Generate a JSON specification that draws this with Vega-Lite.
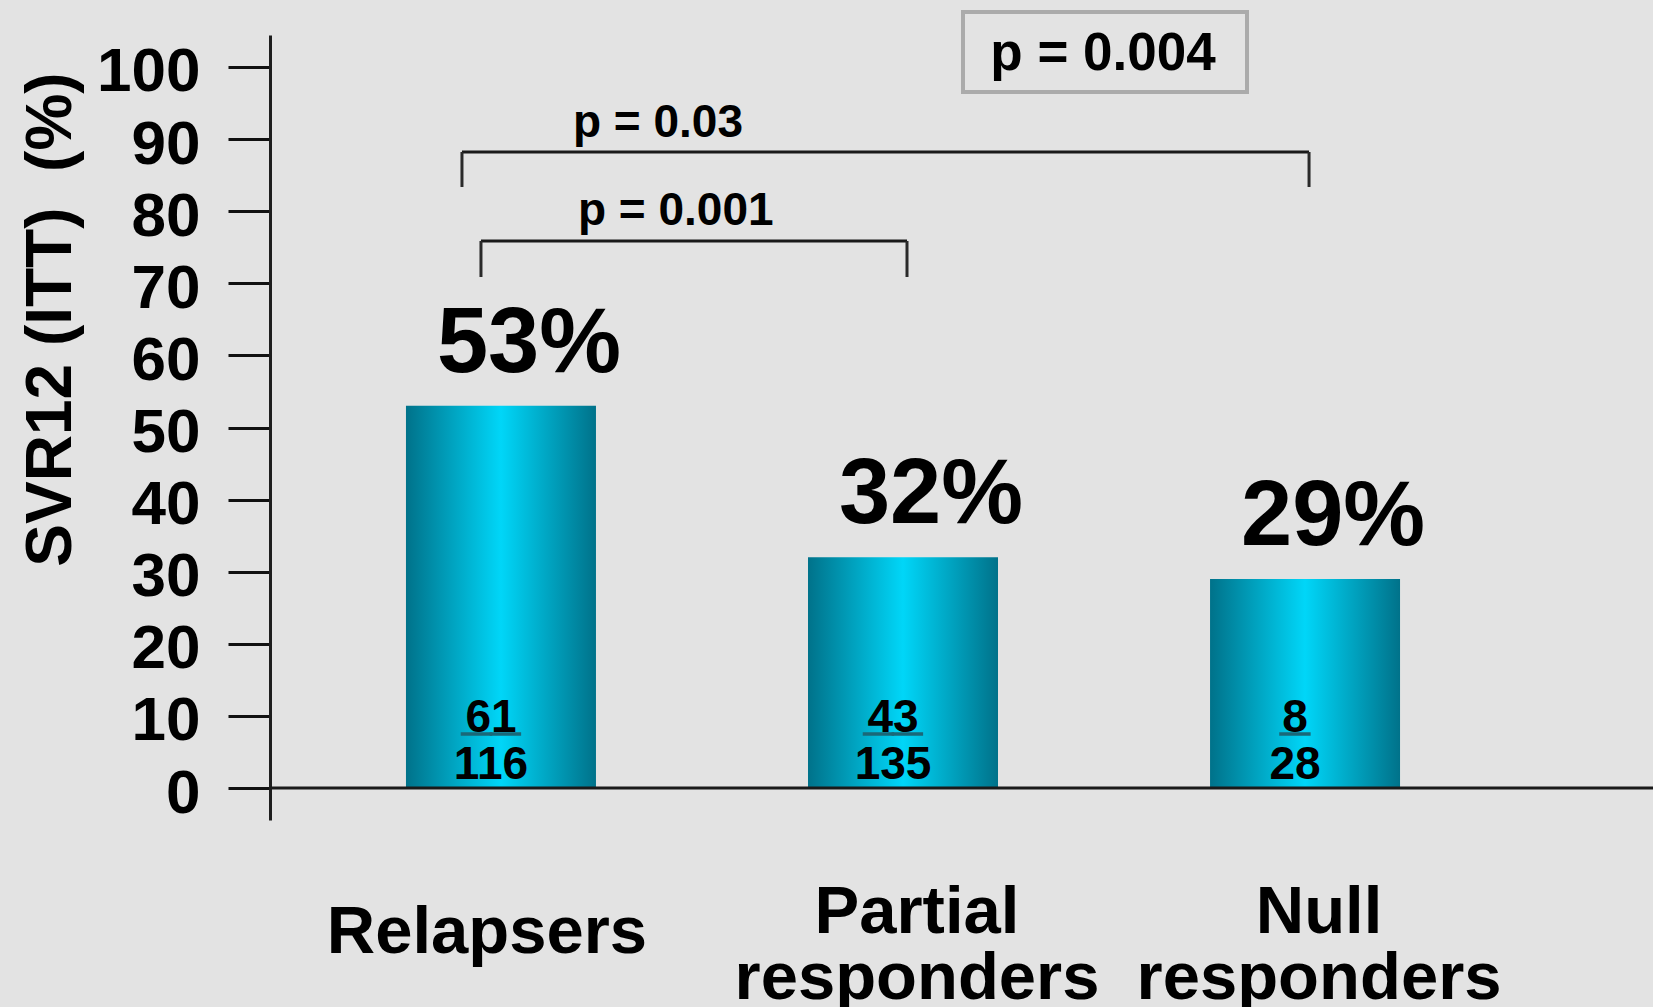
{
  "$schema": "https://vega.github.io/schema/vega-lite/v6.json",
  "width": 1383,
  "height": 785,
  "autosize": {"type": "none"},
  "padding": {"left": 270, "top": 35, "right": 0, "bottom": 187},
  "background": "#e3e3e3",
  "config": {
    "view": {"stroke": null},
    "font": "Liberation Sans",
    "axis": {"grid": false},
    "axisX": {
      "domain": false,
      "ticks": false,
      "labelAngle": 0,
      "labelFont": "Liberation Sans",
      "labelFontSize": 67,
      "labelFontWeight": "bold",
      "labelColor": "#000000",
      "labelPadding": 112,
      "labelLineHeight": 66,
      "labelLimit": 0,
      "labelOverlap": false
    },
    "axisY": {
      "domainColor": "#1e1e1e",
      "domainWidth": 3,
      "tickColor": "#111111",
      "tickWidth": 3,
      "tickSize": 42,
      "labelFont": "Liberation Sans",
      "labelFontSize": 62,
      "labelFontWeight": "bold",
      "labelColor": "#000000",
      "labelPadding": 28,
      "labelBaseline": "middle",
      "labelOffset": 5,
      "labelFlush": false,
      "labelOverlap": false,
      "titleFont": "Liberation Sans",
      "titleFontSize": 64,
      "titleFontWeight": "bold",
      "titleColor": "#000000",
      "titleAngle": 270,
      "titleAlign": "center",
      "titleBaseline": "alphabetic",
      "titleX": -200,
      "titleY": 284
    }
  },
  "datasets": {
    "svr": [
      {"group": "Relapsers", "svr": 53, "n": 61, "N": 116},
      {"group": "Partial responders", "svr": 32, "n": 43, "N": 135},
      {"group": "Null responders", "svr": 29, "n": 8, "N": 28}
    ],
    "one": [{}]
  },
  "data": {"name": "svr"},
  "transform": [
    {"calculate": "datum.svr + '%'", "as": "pct"},
    {"calculate": "length(toString(datum.n)) > 1 ? '__' : '_'", "as": "bar"}
  ],
  "layer": [
    {
      "mark": {
        "type": "bar",
        "fill": {
          "gradient": "linear",
          "x1": 0, "x2": 1, "y1": 0, "y2": 0,
          "stops": [
            {"offset": 0, "color": "#00728a"},
            {"offset": 0.5, "color": "#00d6f8"},
            {"offset": 1, "color": "#00728a"}
          ]
        }
      },
      "encoding": {
        "x": {
          "field": "group",
          "type": "nominal",
          "sort": null,
          "title": null,
          "scale": {
            "type": "band",
            "domain": ["Relapsers", "Partial responders", "Null responders"],
            "paddingInner": 0.5274,
            "paddingOuter": 0.4837,
            "align": 0.3496,
            "round": false
          },
          "axis": {
            "labelExpr": "split(datum.label, ' ')",
            "labelBaseline": {"condition": {"test": "datum.value == 'Relapsers'", "value": "middle"}, "value": "alphabetic"},
            "labelOffset": {"condition": {"test": "datum.value == 'Relapsers'", "value": -14}, "value": 14}
          }
        },
        "y": {
          "field": "svr",
          "type": "quantitative",
          "title": "SVR12 (ITT)\u00a0 (%)",
          "scale": {"domain": [-4.438, 104.438], "nice": false, "zero": false},
          "axis": {"values": [0, 10, 20, 30, 40, 50, 60, 70, 80, 90, 100]}
        },
        "y2": {"datum": 0}
      }
    },
    {
      "data": {"name": "one"},
      "mark": {"type": "rule", "color": "#1a1a1a", "strokeWidth": 3},
      "encoding": {"y": {"datum": 0, "type": "quantitative"}}
    },
    {
      "mark": {"type": "text", "fontSize": 92, "fontWeight": "bold", "color": "#000000", "baseline": "alphabetic", "align": "center", "dx": 28, "dy": -34},
      "encoding": {
        "x": {"field": "group", "type": "nominal"},
        "y": {"field": "svr", "type": "quantitative"},
        "text": {"field": "pct"}
      }
    },
    {
      "mark": {"type": "text", "fontSize": 46, "fontWeight": "bold", "color": "#000000", "baseline": "alphabetic", "align": "center", "dx": -10, "dy": -56},
      "encoding": {
        "x": {"field": "group", "type": "nominal"},
        "y": {"datum": 0, "type": "quantitative"},
        "text": {"field": "n"}
      }
    },
    {
      "mark": {"type": "text", "fontSize": 52, "fontWeight": "bold", "color": "#1b6878", "stroke": "#1b6878", "strokeWidth": 1.5, "baseline": "alphabetic", "align": "center", "dx": -10, "dy": -59},
      "encoding": {
        "x": {"field": "group", "type": "nominal"},
        "y": {"datum": 0, "type": "quantitative"},
        "text": {"field": "bar"}
      }
    },
    {
      "mark": {"type": "text", "fontSize": 46, "fontWeight": "bold", "color": "#000000", "baseline": "alphabetic", "align": "center", "dx": -10, "dy": -9},
      "encoding": {
        "x": {"field": "group", "type": "nominal"},
        "y": {"datum": 0, "type": "quantitative"},
        "text": {"field": "N"}
      }
    },
    {
      "data": {"name": "one"},
      "mark": {"type": "rule", "color": "#1a1a1a", "strokeWidth": 3, "xOffset": -20, "x2Offset": 4},
      "encoding": {
        "x": {"datum": "Relapsers", "type": "nominal"},
        "x2": {"datum": "Partial responders"},
        "y": {"datum": 75.87, "type": "quantitative"}
      }
    },
    {
      "data": {"name": "one"},
      "mark": {"type": "rule", "color": "#2a2a2a", "strokeWidth": 3, "xOffset": -20},
      "encoding": {
        "x": {"datum": "Relapsers", "type": "nominal"},
        "y": {"datum": 75.87, "type": "quantitative"},
        "y2": {"datum": 70.87}
      }
    },
    {
      "data": {"name": "one"},
      "mark": {"type": "rule", "color": "#2a2a2a", "strokeWidth": 3, "xOffset": 4},
      "encoding": {
        "x": {"datum": "Partial responders", "type": "nominal"},
        "y": {"datum": 75.87, "type": "quantitative"},
        "y2": {"datum": 70.87}
      }
    },
    {
      "data": {"name": "one"},
      "mark": {"type": "text", "text": "p = 0.001", "fontSize": 46, "fontWeight": "bold", "color": "#000000", "align": "left", "baseline": "alphabetic", "dx": 77},
      "encoding": {
        "x": {"datum": "Relapsers", "type": "nominal"},
        "y": {"datum": 78.09, "type": "quantitative"}
      }
    },
    {
      "data": {"name": "one"},
      "mark": {"type": "rule", "color": "#1a1a1a", "strokeWidth": 3, "xOffset": -39, "x2Offset": 4},
      "encoding": {
        "x": {"datum": "Relapsers", "type": "nominal"},
        "x2": {"datum": "Null responders"},
        "y": {"datum": 88.21, "type": "quantitative"}
      }
    },
    {
      "data": {"name": "one"},
      "mark": {"type": "rule", "color": "#2a2a2a", "strokeWidth": 3, "xOffset": -39},
      "encoding": {
        "x": {"datum": "Relapsers", "type": "nominal"},
        "y": {"datum": 88.21, "type": "quantitative"},
        "y2": {"datum": 83.36}
      }
    },
    {
      "data": {"name": "one"},
      "mark": {"type": "rule", "color": "#2a2a2a", "strokeWidth": 3, "xOffset": 4},
      "encoding": {
        "x": {"datum": "Null responders", "type": "nominal"},
        "y": {"datum": 88.21, "type": "quantitative"},
        "y2": {"datum": 83.36}
      }
    },
    {
      "data": {"name": "one"},
      "mark": {"type": "text", "text": "p = 0.03", "fontSize": 46, "fontWeight": "bold", "color": "#000000", "align": "left", "baseline": "alphabetic", "dx": 72},
      "encoding": {
        "x": {"datum": "Relapsers", "type": "nominal"},
        "y": {"datum": 90.29, "type": "quantitative"}
      }
    },
    {
      "data": {"name": "one"},
      "mark": {"type": "point", "shape": "M-1,-0.2817H1V0.2817H-1Z", "size": 80656, "filled": false, "opacity": 1, "stroke": "#ababab", "strokeWidth": 4, "xOffset": 202},
      "encoding": {
        "x": {"datum": "Partial responders", "type": "nominal"},
        "y": {"datum": 102.08, "type": "quantitative"}
      }
    },
    {
      "data": {"name": "one"},
      "mark": {"type": "text", "text": "p = 0.004", "fontSize": 53, "fontWeight": "bold", "color": "#000000", "align": "center", "baseline": "alphabetic", "dx": 200},
      "encoding": {
        "x": {"datum": "Partial responders", "type": "nominal"},
        "y": {"datum": 99.58, "type": "quantitative"}
      }
    }
  ]
}
